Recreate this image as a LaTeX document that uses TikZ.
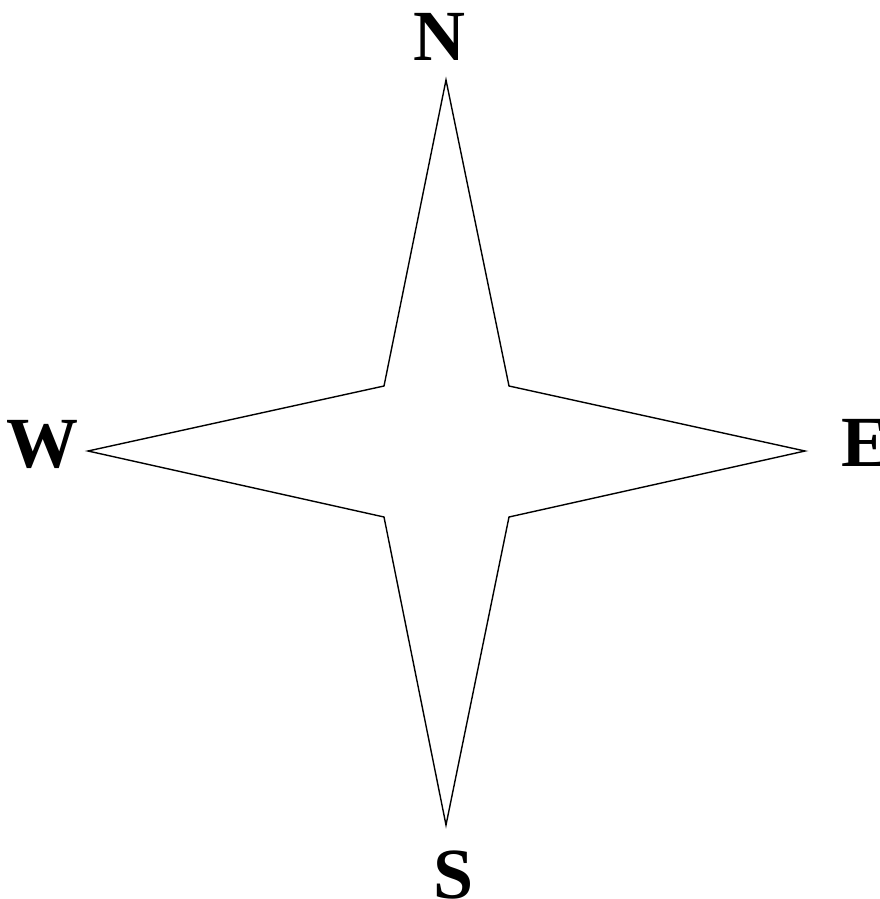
\documentclass[tikz,border=0pt]{standalone}
\usepackage{fontspec}
\setmainfont{Liberation Serif}
\usepackage{tikz}
\usetikzlibrary{positioning, calc}

\begin{document}
\begin{tikzpicture}[
        x=1pt, y=-1pt,
        star/.style={draw=black, fill=white, line width=1.4pt, line join=miter},
        compass/.style={font=\fontsize{72}{72}\selectfont\bfseries, inner sep=0pt, anchor=base}
    ]
        % Frame
        \useasboundingbox (0,0) rectangle (880,899);
        \clip (0,0) rectangle (880,899);

        % Star points
        \coordinate (ntip) at (446,80);
        \coordinate (stip) at (446,825);
        \coordinate (wtip) at (88,451);
        \coordinate (etip) at (805,451);
        \coordinate (ne) at (509,386);
        \coordinate (nw) at (384,386);
        \coordinate (se) at (509,517);
        \coordinate (sw) at (384,517);

        % Star
        \draw[star] (ntip) -- (ne) -- (etip) -- (se) -- (stip) -- (sw) -- (wtip) -- (nw) -- cycle;

        % Labels
        \node[compass] (north) at (439,60) {N};
        \node[compass] (south) at (454,898) {S};
        \node[compass] (west) at (42,467) {W};
        \node[compass, anchor=base west] (east) at (841,466) {E};

    \end{tikzpicture}
\end{document}
